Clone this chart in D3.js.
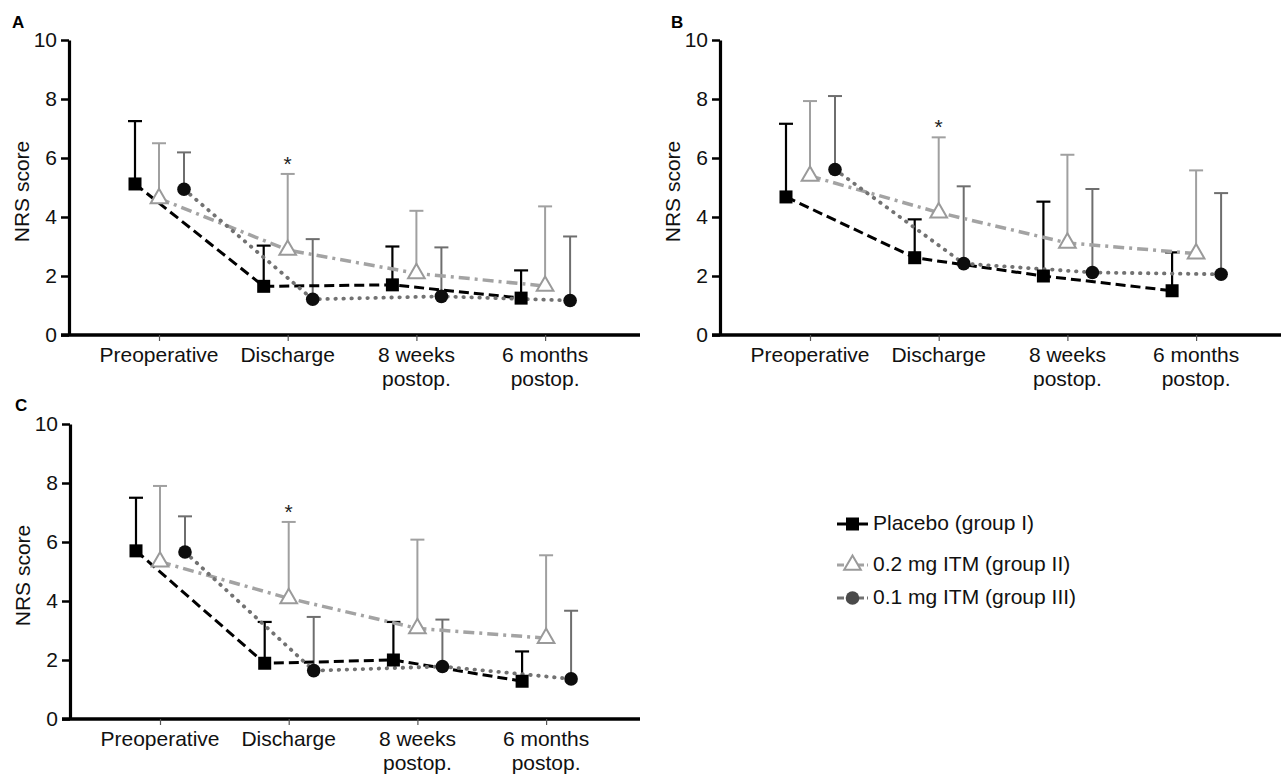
<!DOCTYPE html>
<html>
<head>
<meta charset="utf-8">
<script src="https://cdn.jsdelivr.net/npm/d3@7"></script>
<style>
  html, body { margin: 0; padding: 0; background: #fff; }
  svg { display: block; font-family: "Liberation Sans", Arial, Helvetica, sans-serif; }
</style>
</head>
<body>
<svg id="chart" width="1281" height="774"></svg>
<script>
// ---------- DATA ----------
const categories = [["Preoperative"], ["Discharge"], ["8 weeks", "postop."], ["6 months", "postop."]];
const seriesNames = ["Placebo (group I)", "0.2 mg ITM (group II)", "0.1 mg ITM (group III)"];
const yTicks = [0, 2, 4, 6, 8, 10];
const panelLetters = ["A", "B", "C"];
const yTitle = "NRS score";
const starCategory = 1;   // asterisk above 0.2 mg at Discharge

// Panel A: means and upper error-bar ends (mean + SD)
const placeboA = [5.12, 1.65, 1.70, 1.25];
const placeboA_up = [7.25, 3.03, 3.00, 2.19];
const itm02A = [4.63, 2.88, 2.09, 1.66];
const itm02A_up = [6.50, 5.46, 4.21, 4.36];
const itm01A = [4.94, 1.21, 1.31, 1.17];
const itm01A_up = [6.19, 3.25, 2.97, 3.34];

// Panel B
const placeboB = [4.68, 2.62, 2.00, 1.50];
const placeboB_up = [7.16, 3.92, 4.52, 2.80];
const itm02B = [5.39, 4.15, 3.12, 2.76];
const itm02B_up = [7.93, 6.70, 6.11, 5.58];
const itm01B = [5.61, 2.42, 2.12, 2.06];
const itm01B_up = [8.10, 5.04, 4.95, 4.81];

// Panel C
const placeboC = [5.70, 1.89, 2.00, 1.28];
const placeboC_up = [7.50, 3.29, 3.29, 2.29];
const itm02C = [5.33, 4.09, 3.07, 2.74];
const itm02C_up = [7.90, 6.68, 6.08, 5.55];
const itm01C = [5.66, 1.64, 1.78, 1.36];
const itm01C_up = [6.87, 3.46, 3.37, 3.67];

// ---------- STYLE / LAYOUT ----------
const styles = [
  { line: "#000", dash: "10,5", lw: 3, cap: "butt", err: "#000", ew: 2.2, marker: "square", fill: "#000", stroke: "#000" },
  { line: "#a3a3a3", dash: "11,5,3,5", lw: 3.5, cap: "butt", err: "#a0a0a0", ew: 2, marker: "triangle", fill: "#fff", stroke: "#9a9a9a" },
  { line: "#727272", dash: "0.5,7.5", lw: 3.8, cap: "round", err: "#6e6e6e", ew: 2, marker: "circle", fill: "#0d0d0d", stroke: "#0d0d0d" }
];
const offsets = [-24, 0, 25];
const FS = 21;

const panels = [
  { axisX: 69, xEnd: 640, yTop: 40, yBot: 335, letterX: 12, letterY: 28,
    means: [placeboA, itm02A, itm01A], ups: [placeboA_up, itm02A_up, itm01A_up] },
  { axisX: 720, xEnd: 1281, yTop: 40, yBot: 335, letterX: 671, letterY: 28,
    means: [placeboB, itm02B, itm01B], ups: [placeboB_up, itm02B_up, itm01B_up] },
  { axisX: 70, xEnd: 640, yTop: 424, yBot: 719, letterX: 15, letterY: 411,
    means: [placeboC, itm02C, itm01C], ups: [placeboC_up, itm02C_up, itm01C_up] }
];

const svg = d3.select("#chart");

function drawMarker(g, type, x, y, st) {
  if (type === "square") {
    g.append("rect").attr("x", x - 6.5).attr("y", y - 6.5).attr("width", 13).attr("height", 13)
      .attr("fill", st.fill);
  } else if (type === "triangle") {
    g.append("path").attr("d", d3.symbol().type(d3.symbolTriangle).size(120)())
      .attr("transform", `translate(${x},${y})`)
      .attr("fill", st.fill).attr("stroke", st.stroke).attr("stroke-width", 2);
  } else {
    g.append("circle").attr("cx", x).attr("cy", y).attr("r", 6.8).attr("fill", st.fill);
  }
}

panels.forEach((p, pi) => {
  const g = svg.append("g");
  const y = d3.scaleLinear().domain([0, 10]).range([p.yBot, p.yTop]);
  const x = d3.scalePoint().domain(d3.range(categories.length))
    .range([p.axisX + 90, p.axisX + 90 + 3 * 128.7]);

  // panel letter
  g.append("text").attr("x", p.letterX).attr("y", p.letterY)
    .attr("font-size", 17).attr("font-weight", "bold").attr("fill", "#000").text(panelLetters[pi]);

  // y axis
  const yAxis = g.append("g").attr("transform", `translate(${p.axisX},0)`)
    .call(d3.axisLeft(y).tickValues(yTicks).tickSize(8).tickSizeOuter(0).tickPadding(4));
  yAxis.select(".domain").attr("stroke", "#000").attr("stroke-width", 3.2);
  yAxis.selectAll(".tick line").attr("stroke", "#000").attr("stroke-width", 2.5);
  yAxis.selectAll(".tick text").attr("font-size", FS).attr("fill", "#111")
    .attr("font-family", "'Liberation Sans', Arial, sans-serif");

  // x baseline
  g.append("line").attr("x1", p.axisX - 8).attr("x2", p.xEnd)
    .attr("y1", y(0)).attr("y2", y(0)).attr("stroke", "#000").attr("stroke-width", 3.4);

  // x axis ticks + labels
  const xAxis = g.append("g").attr("transform", `translate(0,${y(0)})`)
    .call(d3.axisBottom(x).tickSize(6).tickFormat(() => ""));
  xAxis.select(".domain").remove();
  xAxis.selectAll(".tick line").attr("stroke", "#555").attr("stroke-width", 1.2);
  categories.forEach((lines, ci) => {
    const t = g.append("text").attr("x", x(ci)).attr("y", y(0) + 27)
      .attr("text-anchor", "middle").attr("font-size", FS).attr("fill", "#111");
    lines.forEach((ln, li) => {
      t.append("tspan").attr("x", x(ci)).attr("dy", li === 0 ? 0 : 24).text(ln);
    });
  });

  // y title
  const ty = (p.yTop + p.yBot) / 2 + 4;
  g.append("text").attr("transform", `translate(${p.axisX - 46},${ty}) rotate(-90)`)
    .attr("text-anchor", "middle").attr("dominant-baseline", "middle")
    .attr("font-size", FS).attr("fill", "#111").text(yTitle);

  // error bars
  p.means.forEach((m, si) => {
    const st = styles[si];
    m.forEach((v, ci) => {
      const cx = x(ci) + offsets[si];
      const top = p.ups[si][ci];
      g.append("line").attr("x1", cx).attr("x2", cx).attr("y1", y(v)).attr("y2", y(top))
        .attr("stroke", st.err).attr("stroke-width", st.ew);
      g.append("line").attr("x1", cx - 7).attr("x2", cx + 7).attr("y1", y(top)).attr("y2", y(top))
        .attr("stroke", st.err).attr("stroke-width", st.ew);
    });
  });

  // lines
  p.means.forEach((m, si) => {
    const st = styles[si];
    const line = d3.line().x((d, ci) => x(ci) + offsets[si]).y(d => y(d));
    g.append("path").datum(m).attr("d", line).attr("fill", "none")
      .attr("stroke", st.line).attr("stroke-width", st.lw)
      .attr("stroke-dasharray", st.dash).attr("stroke-linecap", st.cap);
  });

  // markers
  p.means.forEach((m, si) => {
    const st = styles[si];
    m.forEach((v, ci) => drawMarker(g, st.marker, x(ci) + offsets[si], y(v), st));
  });

  // asterisk
  g.append("text").attr("x", x(starCategory) + offsets[1]).attr("y", y(p.ups[1][starCategory]) - 3)
    .attr("text-anchor", "middle").attr("font-size", 21).attr("fill", "#222").text("*");
});

// legend
const legendRows = [524, 565, 598];
const lg = svg.append("g");
seriesNames.forEach((name, si) => {
  const st = styles[si];
  const ly = legendRows[si];
  lg.append("line").attr("x1", 837).attr("x2", 868).attr("y1", ly).attr("y2", ly)
    .attr("stroke", si === 0 ? "#000" : st.line).attr("stroke-width", 3)
    .attr("stroke-dasharray", si === 0 ? null : "7,3");
  const mst = si === 2 ? Object.assign({}, st, { fill: "#4a4a4a" }) : st;
  drawMarker(lg, st.marker, 852.5, ly, mst);
  lg.append("text").attr("x", 873).attr("y", ly).attr("dominant-baseline", "middle")
    .attr("font-size", FS).attr("fill", "#111").text(name);
});
</script>
</body>
</html>
